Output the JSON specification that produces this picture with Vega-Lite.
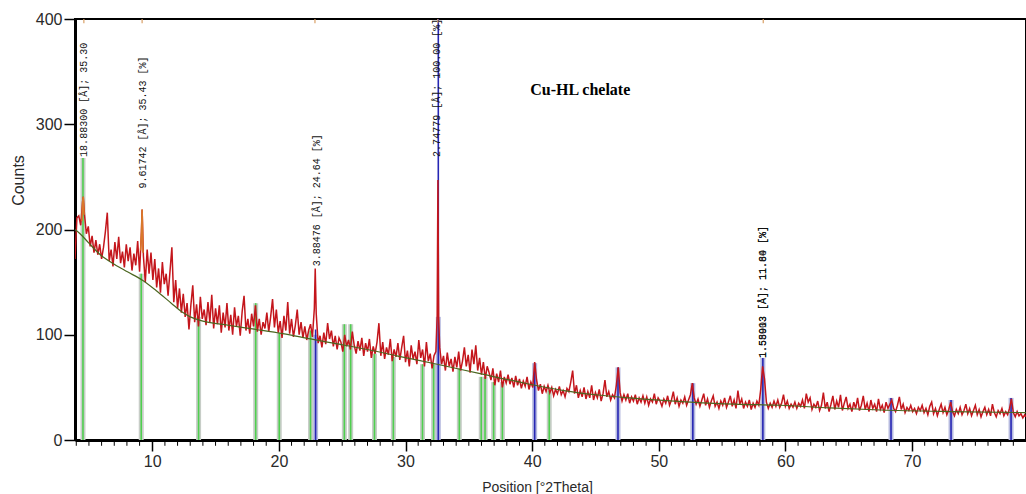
{
"$schema": "https://vega.github.io/schema/vega-lite/v6.json",
"width": 951, "height": 421,
"autosize": {"type": "none"},
"padding": {"left": 75, "top": 19, "right": 0, "bottom": 54},
"background": "white",
"config": {"view": {"stroke": "black", "strokeWidth": 2}, "font": "Liberation Sans"},
"datasets": {
"obs": [
{"t":3.90,"c":172},{"t":4.05,"c":211},{"t":4.20,"c":213},{"t":4.35,"c":204},{"t":4.50,"c":226},{"t":4.55,"c":231},{"t":4.65,"c":214},{"t":4.80,"c":196},{"t":4.95,"c":203},{"t":5.10,"c":184},{"t":5.25,"c":194},
{"t":5.40,"c":178},{"t":5.55,"c":190},{"t":5.70,"c":176},{"t":5.85,"c":186},{"t":6.00,"c":172},{"t":6.15,"c":183},{"t":6.30,"c":198},{"t":6.45,"c":216},{"t":6.60,"c":170},{"t":6.75,"c":181},
{"t":6.90,"c":165},{"t":7.05,"c":188},{"t":7.20,"c":172},{"t":7.35,"c":193},{"t":7.50,"c":168},{"t":7.65,"c":179},{"t":7.80,"c":164},{"t":7.95,"c":186},{"t":8.10,"c":170},{"t":8.25,"c":183},
{"t":8.40,"c":161},{"t":8.55,"c":177},{"t":8.70,"c":166},{"t":8.85,"c":189},{"t":9.00,"c":160},{"t":9.15,"c":198},{"t":9.20,"c":219},{"t":9.30,"c":175},{"t":9.45,"c":150},{"t":9.60,"c":181},{"t":9.75,"c":158},
{"t":9.90,"c":178},{"t":10.05,"c":152},{"t":10.20,"c":172},{"t":10.35,"c":145},{"t":10.50,"c":163},{"t":10.65,"c":140},{"t":10.80,"c":169},{"t":10.95,"c":148},{"t":11.10,"c":158},{"t":11.25,"c":137},
{"t":11.40,"c":160},{"t":11.55,"c":183},{"t":11.70,"c":131},{"t":11.85,"c":152},{"t":12.00,"c":125},{"t":12.15,"c":144},{"t":12.30,"c":121},{"t":12.45,"c":139},{"t":12.60,"c":117},{"t":12.75,"c":130},
{"t":12.90,"c":105},{"t":13.05,"c":128},{"t":13.20,"c":147},{"t":13.35,"c":112},{"t":13.50,"c":129},{"t":13.65,"c":108},{"t":13.80,"c":136},{"t":13.95,"c":115},{"t":14.10,"c":124},{"t":14.25,"c":109},
{"t":14.40,"c":131},{"t":14.55,"c":112},{"t":14.70,"c":138},{"t":14.85,"c":106},{"t":15.00,"c":125},{"t":15.15,"c":110},{"t":15.30,"c":128},{"t":15.45,"c":102},{"t":15.60,"c":121},{"t":15.75,"c":107},
{"t":15.90,"c":130},{"t":16.05,"c":104},{"t":16.20,"c":119},{"t":16.35,"c":100},{"t":16.50,"c":126},{"t":16.65,"c":108},{"t":16.80,"c":118},{"t":16.95,"c":99},{"t":17.10,"c":122},{"t":17.25,"c":137},
{"t":17.40,"c":104},{"t":17.55,"c":115},{"t":17.70,"c":101},{"t":17.85,"c":120},{"t":18.00,"c":108},{"t":18.15,"c":128},{"t":18.30,"c":103},{"t":18.45,"c":115},{"t":18.60,"c":100},{"t":18.75,"c":112},
{"t":18.90,"c":106},{"t":19.05,"c":121},{"t":19.20,"c":103},{"t":19.35,"c":117},{"t":19.50,"c":134},{"t":19.65,"c":107},{"t":19.80,"c":124},{"t":19.95,"c":102},{"t":20.10,"c":113},{"t":20.25,"c":97},
{"t":20.40,"c":118},{"t":20.55,"c":104},{"t":20.70,"c":131},{"t":20.85,"c":101},{"t":21.00,"c":115},{"t":21.15,"c":98},{"t":21.30,"c":109},{"t":21.45,"c":124},{"t":21.60,"c":100},{"t":21.75,"c":112},
{"t":21.90,"c":97},{"t":22.05,"c":108},{"t":22.20,"c":95},{"t":22.35,"c":104},{"t":22.50,"c":110},{"t":22.65,"c":98},{"t":22.80,"c":125},{"t":22.87,"c":163},{"t":22.95,"c":120},{"t":23.10,"c":92},{"t":23.25,"c":99},
{"t":23.40,"c":88},{"t":23.55,"c":102},{"t":23.70,"c":91},{"t":23.85,"c":111},{"t":24.00,"c":96},{"t":24.15,"c":104},{"t":24.30,"c":89},{"t":24.45,"c":99},{"t":24.60,"c":86},{"t":24.75,"c":97},
{"t":24.90,"c":93},{"t":25.05,"c":84},{"t":25.20,"c":100},{"t":25.35,"c":89},{"t":25.50,"c":95},{"t":25.65,"c":86},{"t":25.80,"c":103},{"t":25.95,"c":90},{"t":26.10,"c":82},{"t":26.25,"c":94},
{"t":26.40,"c":85},{"t":26.55,"c":97},{"t":26.70,"c":80},{"t":26.85,"c":92},{"t":27.00,"c":84},{"t":27.15,"c":96},{"t":27.30,"c":78},{"t":27.45,"c":89},{"t":27.60,"c":82},{"t":27.75,"c":93},
{"t":27.90,"c":111},{"t":28.05,"c":80},{"t":28.20,"c":93},{"t":28.35,"c":77},{"t":28.50,"c":88},{"t":28.65,"c":81},{"t":28.80,"c":96},{"t":28.95,"c":75},{"t":29.10,"c":86},{"t":29.25,"c":79},
{"t":29.40,"c":92},{"t":29.55,"c":76},{"t":29.70,"c":88},{"t":29.85,"c":99},{"t":30.00,"c":74},{"t":30.15,"c":85},{"t":30.30,"c":70},{"t":30.45,"c":90},{"t":30.60,"c":77},{"t":30.75,"c":84},
{"t":30.90,"c":72},{"t":31.05,"c":95},{"t":31.20,"c":78},{"t":31.35,"c":86},{"t":31.50,"c":70},{"t":31.65,"c":93},{"t":31.80,"c":75},{"t":31.95,"c":82},{"t":32.10,"c":68},{"t":32.25,"c":80},
{"t":32.40,"c":84},{"t":32.50,"c":118},{"t":32.56,"c":247},{"t":32.62,"c":115},{"t":32.70,"c":88},{"t":32.85,"c":72},{"t":33.00,"c":80},{"t":33.15,"c":66},{"t":33.30,"c":83},{"t":33.45,"c":70},{"t":33.60,"c":77},{"t":33.75,"c":65},
{"t":33.90,"c":79},{"t":34.05,"c":69},{"t":34.20,"c":84},{"t":34.35,"c":66},{"t":34.50,"c":75},{"t":34.65,"c":88},{"t":34.80,"c":70},{"t":34.95,"c":81},{"t":35.10,"c":64},{"t":35.25,"c":86},
{"t":35.40,"c":72},{"t":35.55,"c":90},{"t":35.70,"c":66},{"t":35.85,"c":78},{"t":36.00,"c":62},{"t":36.15,"c":74},{"t":36.30,"c":58},{"t":36.45,"c":70},{"t":36.60,"c":64},{"t":36.75,"c":57},
{"t":36.90,"c":68},{"t":37.05,"c":52},{"t":37.20,"c":63},{"t":37.35,"c":55},{"t":37.50,"c":66},{"t":37.65,"c":50},{"t":37.80,"c":60},{"t":37.95,"c":54},{"t":38.10,"c":62},{"t":38.25,"c":53},
{"t":38.40,"c":59},{"t":38.55,"c":50},{"t":38.70,"c":61},{"t":38.85,"c":52},{"t":39.00,"c":58},{"t":39.15,"c":49},{"t":39.30,"c":56},{"t":39.45,"c":51},{"t":39.60,"c":60},{"t":39.75,"c":48},
{"t":39.90,"c":55},{"t":40.05,"c":50},{"t":40.20,"c":74},{"t":40.35,"c":57},{"t":40.50,"c":47},{"t":40.65,"c":53},{"t":40.80,"c":44},{"t":40.95,"c":51},{"t":41.10,"c":46},{"t":41.25,"c":52},
{"t":41.40,"c":45},{"t":41.55,"c":50},{"t":41.70,"c":42},{"t":41.85,"c":48},{"t":42.00,"c":44},{"t":42.15,"c":51},{"t":42.30,"c":43},{"t":42.45,"c":47},{"t":42.60,"c":41},{"t":42.75,"c":49},
{"t":42.90,"c":46},{"t":43.05,"c":55},{"t":43.20,"c":66},{"t":43.35,"c":44},{"t":43.50,"c":52},{"t":43.65,"c":40},{"t":43.80,"c":47},{"t":43.95,"c":41},{"t":44.10,"c":50},{"t":44.25,"c":39},
{"t":44.40,"c":46},{"t":44.55,"c":40},{"t":44.70,"c":52},{"t":44.85,"c":38},{"t":45.00,"c":45},{"t":45.15,"c":40},{"t":45.30,"c":48},{"t":45.45,"c":37},{"t":45.60,"c":44},{"t":45.75,"c":57},
{"t":45.90,"c":41},{"t":46.05,"c":46},{"t":46.20,"c":38},{"t":46.35,"c":43},{"t":46.50,"c":40},{"t":46.65,"c":52},{"t":46.80,"c":69},{"t":46.95,"c":45},{"t":47.10,"c":37},{"t":47.25,"c":43},
{"t":47.40,"c":38},{"t":47.55,"c":44},{"t":47.70,"c":35},{"t":47.85,"c":41},{"t":48.00,"c":37},{"t":48.15,"c":43},{"t":48.30,"c":34},{"t":48.45,"c":40},{"t":48.60,"c":36},{"t":48.75,"c":42},
{"t":48.90,"c":35},{"t":49.05,"c":41},{"t":49.20,"c":33},{"t":49.35,"c":39},{"t":49.50,"c":36},{"t":49.65,"c":44},{"t":49.80,"c":34},{"t":49.95,"c":40},{"t":50.10,"c":37},{"t":50.25,"c":32},
{"t":50.40,"c":39},{"t":50.55,"c":35},{"t":50.70,"c":42},{"t":50.85,"c":33},{"t":51.00,"c":38},{"t":51.15,"c":46},{"t":51.30,"c":34},{"t":51.45,"c":40},{"t":51.60,"c":32},{"t":51.75,"c":38},
{"t":51.90,"c":35},{"t":52.05,"c":41},{"t":52.20,"c":33},{"t":52.35,"c":38},{"t":52.50,"c":43},{"t":52.65,"c":54},{"t":52.80,"c":40},{"t":52.95,"c":34},{"t":53.10,"c":39},{"t":53.25,"c":32},
{"t":53.40,"c":38},{"t":53.55,"c":44},{"t":53.70,"c":33},{"t":53.85,"c":39},{"t":54.00,"c":31},{"t":54.15,"c":37},{"t":54.30,"c":42},{"t":54.45,"c":32},{"t":54.60,"c":36},{"t":54.75,"c":30},
{"t":54.90,"c":37},{"t":55.05,"c":33},{"t":55.20,"c":40},{"t":55.35,"c":31},{"t":55.50,"c":36},{"t":55.65,"c":42},{"t":55.80,"c":32},{"t":55.95,"c":38},{"t":56.10,"c":30},{"t":56.25,"c":47},
{"t":56.40,"c":34},{"t":56.55,"c":39},{"t":56.70,"c":30},{"t":56.85,"c":36},{"t":57.00,"c":32},{"t":57.15,"c":38},{"t":57.30,"c":29},{"t":57.45,"c":35},{"t":57.60,"c":31},{"t":57.75,"c":37},
{"t":57.90,"c":33},{"t":58.05,"c":48},{"t":58.20,"c":70},{"t":58.35,"c":58},{"t":58.50,"c":36},{"t":58.65,"c":30},{"t":58.80,"c":35},{"t":58.95,"c":31},{"t":59.10,"c":37},{"t":59.25,"c":32},
{"t":59.40,"c":38},{"t":59.55,"c":31},{"t":59.70,"c":35},{"t":59.85,"c":43},{"t":60.00,"c":32},{"t":60.15,"c":37},{"t":60.30,"c":30},{"t":60.45,"c":34},{"t":60.60,"c":31},{"t":60.75,"c":36},
{"t":60.90,"c":30},{"t":61.05,"c":35},{"t":61.20,"c":32},{"t":61.35,"c":38},{"t":61.50,"c":30},{"t":61.65,"c":44},{"t":61.80,"c":36},{"t":61.95,"c":40},{"t":62.10,"c":29},{"t":62.25,"c":34},
{"t":62.40,"c":31},{"t":62.55,"c":37},{"t":62.70,"c":28},{"t":62.85,"c":33},{"t":63.00,"c":45},{"t":63.15,"c":30},{"t":63.30,"c":36},{"t":63.45,"c":27},{"t":63.60,"c":34},{"t":63.75,"c":42},
{"t":63.90,"c":29},{"t":64.05,"c":37},{"t":64.20,"c":31},{"t":64.35,"c":43},{"t":64.50,"c":28},{"t":64.65,"c":35},{"t":64.80,"c":41},{"t":64.95,"c":30},{"t":65.10,"c":34},{"t":65.25,"c":27},
{"t":65.40,"c":36},{"t":65.55,"c":30},{"t":65.70,"c":40},{"t":65.85,"c":28},{"t":66.00,"c":33},{"t":66.15,"c":42},{"t":66.30,"c":29},{"t":66.45,"c":35},{"t":66.60,"c":27},{"t":66.75,"c":38},
{"t":66.90,"c":30},{"t":67.05,"c":34},{"t":67.20,"c":27},{"t":67.35,"c":39},{"t":67.50,"c":29},{"t":67.65,"c":33},{"t":67.80,"c":26},{"t":67.95,"c":36},{"t":68.10,"c":30},{"t":68.25,"c":34},
{"t":68.40,"c":38},{"t":68.55,"c":30},{"t":68.70,"c":27},{"t":68.85,"c":33},{"t":69.00,"c":41},{"t":69.15,"c":29},{"t":69.30,"c":34},{"t":69.45,"c":26},{"t":69.60,"c":31},{"t":69.75,"c":28},
{"t":69.90,"c":33},{"t":70.05,"c":27},{"t":70.20,"c":30},{"t":70.35,"c":25},{"t":70.50,"c":31},{"t":70.65,"c":28},{"t":70.80,"c":33},{"t":70.95,"c":26},{"t":71.10,"c":30},{"t":71.25,"c":24},
{"t":71.40,"c":32},{"t":71.55,"c":36},{"t":71.70,"c":25},{"t":71.85,"c":30},{"t":72.00,"c":23},{"t":72.15,"c":29},{"t":72.30,"c":34},{"t":72.45,"c":26},{"t":72.60,"c":31},{"t":72.75,"c":24},
{"t":72.90,"c":29},{"t":73.05,"c":36},{"t":73.20,"c":27},{"t":73.35,"c":23},{"t":73.50,"c":29},{"t":73.65,"c":25},{"t":73.80,"c":31},{"t":73.95,"c":24},{"t":74.10,"c":28},{"t":74.25,"c":34},
{"t":74.40,"c":25},{"t":74.55,"c":30},{"t":74.70,"c":23},{"t":74.85,"c":28},{"t":75.00,"c":33},{"t":75.15,"c":24},{"t":75.30,"c":29},{"t":75.45,"c":22},{"t":75.60,"c":27},{"t":75.75,"c":31},
{"t":75.90,"c":24},{"t":76.05,"c":29},{"t":76.20,"c":23},{"t":76.35,"c":34},{"t":76.50,"c":26},{"t":76.65,"c":22},{"t":76.80,"c":28},{"t":76.95,"c":25},{"t":77.10,"c":30},{"t":77.25,"c":23},
{"t":77.40,"c":27},{"t":77.55,"c":24},{"t":77.70,"c":30},{"t":77.85,"c":39},{"t":78.00,"c":26},{"t":78.15,"c":22},{"t":78.30,"c":27},{"t":78.45,"c":23},{"t":78.60,"c":25},{"t":78.75,"c":21},{"t":78.90,"c":24},{"t":79.00,"c":22}
],
"bg": [
{"t":3.9,"c":200},{"t":4.3,"c":196},{"t":5.0,"c":187},{"t":5.9,"c":176},{"t":7.0,"c":167},{"t":8.0,"c":160},{"t":9.2,"c":152},{"t":10.3,"c":142},{"t":11.5,"c":130},{"t":12.3,"c":122},{"t":13.0,"c":117},{"t":14.0,"c":113},{"t":16.0,"c":109},{"t":18.2,"c":105},{"t":20.3,"c":101},{"t":22.5,"c":96},{"t":24.3,"c":92},{"t":27.0,"c":86},{"t":29.3,"c":80},{"t":32.5,"c":72},{"t":35.9,"c":63},{"t":39.8,"c":53},{"t":42.5,"c":47},{"t":45.0,"c":43},{"t":47.7,"c":40},{"t":52.5,"c":36},{"t":56.0,"c":34},{"t":59.6,"c":33},{"t":63.5,"c":30.5},{"t":67.5,"c":28.5},{"t":73.0,"c":27},{"t":79.0,"c":26}
],
"peakseg": [
{"t":4.45,"c":208,"p":"a"},{"t":4.50,"c":226,"p":"a"},{"t":4.55,"c":231,"p":"a"},{"t":4.62,"c":214,"p":"a"},
{"t":9.08,"c":180,"p":"b"},{"t":9.15,"c":198,"p":"b"},{"t":9.20,"c":219,"p":"b"},{"t":9.27,"c":178,"p":"b"}
],
"sticks": [
{"t":4.53,"h":268,"bh":268,"ref":"g"},{"t":9.13,"h":158,"bh":158,"ref":"g"},{"t":13.66,"h":117,"bh":117,"ref":"g"},{"t":18.17,"h":130,"bh":130,"ref":"g"},{"t":20.03,"h":102,"bh":102,"ref":"g"},{"t":22.5,"h":104,"bh":104,"ref":"g"},{"t":25.17,"h":110,"bh":110,"ref":"g"},{"t":25.67,"h":110,"bh":110,"ref":"g"},{"t":27.55,"h":82,"bh":82,"ref":"g"},{"t":29.04,"h":79,"bh":79,"ref":"g"},{"t":31.34,"h":72,"bh":72,"ref":"g"},{"t":32.22,"h":72,"bh":72,"ref":"g"},{"t":34.25,"h":68,"bh":68,"ref":"g"},{"t":35.98,"h":60,"bh":60,"ref":"g"},{"t":36.28,"h":60,"bh":60,"ref":"g"},{"t":36.96,"h":55,"bh":55,"ref":"g"},{"t":37.65,"h":55,"bh":55,"ref":"g"},{"t":41.35,"h":47,"bh":47,"ref":"g"},
{"t":22.9,"h":105,"bh":100,"ref":"b"},{"t":32.59,"h":400,"bh":117,"ref":"b"},{"t":40.2,"h":73,"bh":73,"ref":"b"},{"t":46.78,"h":69,"bh":69,"ref":"b"},{"t":52.69,"h":54,"bh":54,"ref":"b"},{"t":58.22,"h":78,"bh":78,"ref":"b"},{"t":68.34,"h":40,"bh":40,"ref":"b"},{"t":73.08,"h":38,"bh":38,"ref":"b"},{"t":77.82,"h":40,"bh":40,"ref":"b"}
],
"labels": [
{"t":4.6,"c":269,"s":"18.88300 [Å]; 35.30"},
{"t":9.3,"c":239,"s":"9.61742 [Å]; 35.43 [%]"},
{"t":23.0,"c":165,"s":"3.88476 [Å]; 24.64 [%]"},
{"t":32.5,"c":269,"s":"2.74779 [Å]; 100.00 [%]"},
{"t":58.22,"c":78,"s":"1.55903 [Å]; 11.60 [%]"},
{"t":58.27,"c":78,"s":"1.58013 [Å]; 11.84 [%]"}
],
"heading": [{"t":43.8,"c":333,"s":"Cu-HL chelate"}],
"tops": [{"t":4.6},{"t":9.2},{"t":22.85},{"t":32.55},{"t":58.25}],
"minor": [{"t":4},{"t":5},{"t":6},{"t":7},{"t":8},{"t":9},{"t":11},{"t":12},{"t":13},{"t":14},{"t":15},{"t":16},{"t":17},{"t":18},{"t":19},{"t":21},{"t":22},{"t":23},{"t":24},{"t":25},{"t":26},{"t":27},{"t":28},{"t":29},{"t":31},{"t":32},{"t":33},{"t":34},{"t":35},{"t":36},{"t":37},{"t":38},{"t":39},{"t":41},{"t":42},{"t":43},{"t":44},{"t":45},{"t":46},{"t":47},{"t":48},{"t":49},{"t":51},{"t":52},{"t":53},{"t":54},{"t":55},{"t":56},{"t":57},{"t":58},{"t":59},{"t":61},{"t":62},{"t":63},{"t":64},{"t":65},{"t":66},{"t":67},{"t":68},{"t":69},{"t":71},{"t":72},{"t":73},{"t":74},{"t":75},{"t":76},{"t":77},{"t":78}]
},
"layer": [
{
"data": {"name": "sticks"},
"transform": [{"filter": "datum.ref == 'g'"}],
"mark": {"type": "rule", "strokeWidth": 5, "color": "#c7cdc7"},
"encoding": {
"x": {"field": "t", "type": "quantitative", "scale": {"domain": [3.9, 79], "nice": false, "zero": false},
"axis": {"orient": "bottom", "values": [10,20,30,40,50,60,70], "grid": false, "domainColor": "black", "domainWidth": 3, "tickColor": "black", "tickWidth": 1.5, "tickSize": 11, "labelPadding": 2, "labelFont": "Liberation Sans", "labelFontSize": 16, "labelColor": "#2a2a2a", "title": "Position [°2Theta]", "titleFont": "Liberation Sans", "titleFontSize": 14, "titleFontWeight": "normal", "titleColor": "#2a2a2a", "titleX": 462, "titleY": 51, "titleAlign": "center", "titleBaseline": "alphabetic"}},
"y": {"field": "bh", "type": "quantitative", "scale": {"domain": [0, 400], "nice": false, "zero": true},
"axis": {"orient": "left", "values": [0,100,200,300,400], "grid": false, "domainColor": "black", "domainWidth": 3, "tickColor": "black", "tickWidth": 1.5, "tickSize": 11, "labelPadding": 2, "labelFont": "Liberation Sans", "labelFontSize": 16, "labelColor": "#2a2a2a", "title": "Counts", "titleFont": "Liberation Sans", "titleFontSize": 16, "titleFontWeight": "normal", "titleColor": "#2a2a2a", "titleAngle": 270, "titleX": -57, "titleY": 161, "titleAlign": "center", "titleBaseline": "middle"}},
"y2": {"datum": 0}
}
},
{
"data": {"name": "sticks"},
"transform": [{"filter": "datum.ref == 'b'"}],
"mark": {"type": "rule", "strokeWidth": 5, "color": "#b6badf"},
"encoding": {
"x": {"field": "t", "type": "quantitative"},
"y": {"field": "bh", "type": "quantitative"},
"y2": {"datum": 0}
}
},
{
"data": {"name": "sticks"},
"transform": [{"filter": "datum.ref == 'g'"}],
"mark": {"type": "rule", "strokeWidth": 1.6, "color": "#4fcf4f"},
"encoding": {
"x": {"field": "t", "type": "quantitative"},
"y": {"field": "h", "type": "quantitative"},
"y2": {"datum": 0}
}
},
{
"data": {"name": "sticks"},
"transform": [{"filter": "datum.ref == 'b'"}],
"mark": {"type": "rule", "strokeWidth": 1.6, "color": "#2626b4"},
"encoding": {
"x": {"field": "t", "type": "quantitative"},
"y": {"field": "h", "type": "quantitative"},
"y2": {"datum": 0}
}
},
{
"data": {"name": "obs"},
"mark": {"type": "line", "strokeWidth": 1.5, "color": "#c4161c", "clip": true},
"encoding": {
"x": {"field": "t", "type": "quantitative"},
"y": {"field": "c", "type": "quantitative"}
}
},
{
"data": {"name": "peakseg"},
"mark": {"type": "line", "strokeWidth": 1.6, "color": "#d9782a", "clip": true},
"encoding": {
"x": {"field": "t", "type": "quantitative"},
"y": {"field": "c", "type": "quantitative"},
"detail": {"field": "p", "type": "nominal"}
}
},
{
"data": {"name": "bg"},
"mark": {"type": "line", "strokeWidth": 1.2, "color": "#4b6620", "interpolate": "monotone", "clip": true},
"encoding": {
"x": {"field": "t", "type": "quantitative"},
"y": {"field": "c", "type": "quantitative"}
}
},
{
"data": {"name": "labels"},
"mark": {"type": "text", "angle": 270, "align": "left", "baseline": "middle", "font": "Liberation Mono", "fontSize": 10, "color": "#111111"},
"encoding": {
"x": {"field": "t", "type": "quantitative"},
"y": {"field": "c", "type": "quantitative"},
"text": {"field": "s", "type": "nominal"}
}
},
{
"data": {"name": "heading"},
"mark": {"type": "text", "align": "center", "baseline": "middle", "font": "Liberation Serif", "fontSize": 16, "fontWeight": "bold", "color": "black"},
"encoding": {
"x": {"field": "t", "type": "quantitative"},
"y": {"field": "c", "type": "quantitative"},
"text": {"field": "s", "type": "nominal"}
}
},
{
"data": {"name": "tops"},
"mark": {"type": "rule", "strokeWidth": 1.2, "color": "#d9a066"},
"encoding": {
"x": {"field": "t", "type": "quantitative"},
"y": {"datum": 400, "type": "quantitative"},
"y2": {"datum": 396}
}
},
{
"data": {"name": "minor"},
"mark": {"type": "rule", "strokeWidth": 1, "color": "black", "clip": false},
"encoding": {
"x": {"field": "t", "type": "quantitative"},
"y": {"datum": 0, "type": "quantitative"},
"y2": {"datum": -5.5}
}
}
]
}
